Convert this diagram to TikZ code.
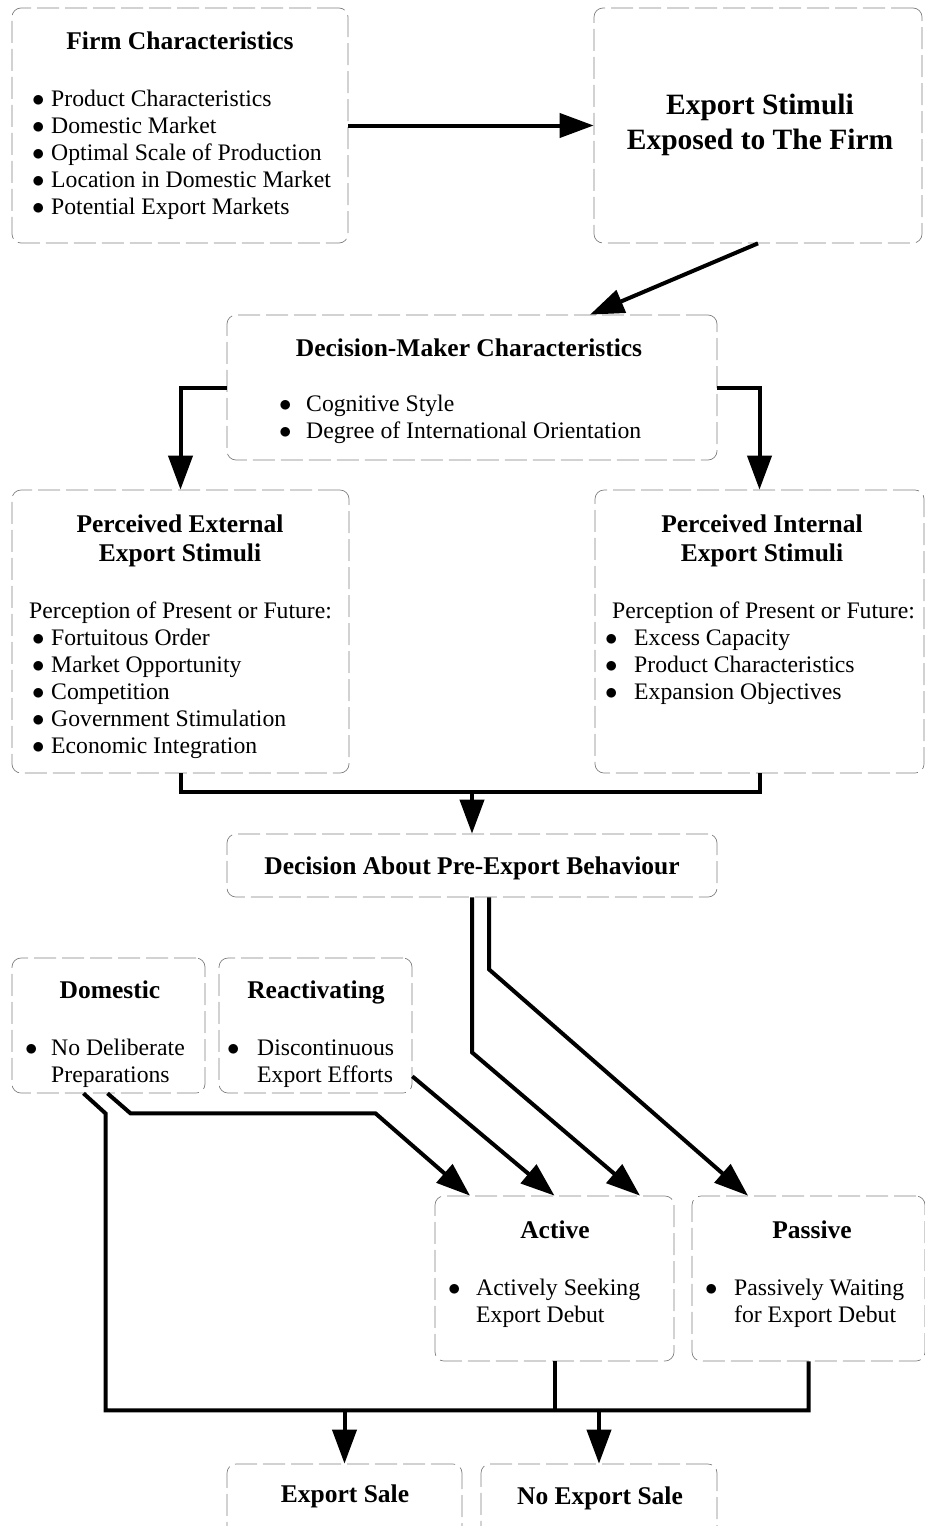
\documentclass[tikz,border=0pt]{standalone}
\usepackage{fontspec}
\setmainfont{Liberation Serif}
\usetikzlibrary{arrows.meta}
\newlength{\bulw}
\newcommand{\bul}{\strut\makebox[\bulw][l]{$\bullet$}}
\newcommand{\nob}{\strut\hspace*{\bulw}}

\begin{document}
\begin{tikzpicture}[x=1pt,y=-1pt,
  box/.style={draw=black!50,line width=0.7pt,dash pattern=on 22pt off 6pt,rounded corners=9pt,inner sep=0pt},
  ttl/.style={font=\fontsize{25.5}{29}\selectfont\bfseries,inner sep=0pt,anchor=base},
  big/.style={font=\fontsize{29.5}{35}\selectfont\bfseries,inner sep=0pt,anchor=base},
  txt/.style={font=\fontsize{23.7}{27}\selectfont,inner sep=0pt,anchor=base west},
  lst/.style={font=\fontsize{23.7}{27}\selectfont,inner sep=0pt,anchor=north west,align=left,
    execute at begin node={\setlength{\bulw}{#1}}},
  conn/.style={line width=4pt},
  arr/.style={line width=4pt,-{Triangle[length=34pt,width=24pt]}}]
\useasboundingbox (0,0) rectangle (925,1526);
% boxes
\node[box,minimum width=336,minimum height=235] (firm) at (180,125.5) {};
\node[box,minimum width=328,minimum height=235] (stim) at (758,125.5) {};
\node[box,minimum width=490,minimum height=145] (dm) at (472,387.5) {};
\node[box,minimum width=337,minimum height=283] (ext) at (180.5,631.5) {};
\node[box,minimum width=329,minimum height=283] (int) at (759.5,631.5) {};
\node[box,minimum width=490,minimum height=63] (dec) at (472,865.5) {};
\node[box,minimum width=193,minimum height=135] (dom) at (108.5,1025.5) {};
\node[box,minimum width=193,minimum height=135] (react) at (315.5,1025.5) {};
\node[box,minimum width=239,minimum height=165] (act) at (554.5,1278.5) {};
\node[box,minimum width=233,minimum height=165] (pas) at (808.5,1278.5) {};
\node[box,minimum width=235,minimum height=96] (es) at (344.5,1512) {};
\node[box,minimum width=236,minimum height=96] (nes) at (599,1512) {};
% titles
\node[ttl] (firmt) at (180,49) {Firm Characteristics};
\node[big] (stimta) at (760,114) {Export Stimuli};
\node[big] (stimtb) at (760,149) {Exposed to The Firm};
\node[ttl] (dmt) at (469,356) {Decision-Maker Characteristics};
\node[ttl] (extta) at (180,532) {Perceived External};
\node[ttl] (exttb) at (180,561) {Export Stimuli};
\node[ttl] (intta) at (762,532) {Perceived Internal};
\node[ttl] (inttb) at (762,561) {Export Stimuli};
\node[ttl] (dect) at (472,874) {Decision About Pre-Export Behaviour};
\node[ttl] (domt) at (110,998) {Domestic};
\node[ttl] (reactt) at (316,998) {Reactivating};
\node[ttl] (actt) at (555,1238) {Active};
\node[ttl] (past) at (812,1238) {Passive};
\node[ttl] (est) at (345,1502) {Export Sale};
\node[ttl] (nest) at (600,1504) {No Export Sale};
% lists
\node[lst=19pt] (firml) at (32,87.1) {\bul Product Characteristics\\ \bul Domestic Market\\
  \bul Optimal Scale of Production\\ \bul Location in Domestic Market\\ \bul Potential Export Markets};
\node[lst=27pt] (dml) at (279,392.1) {\bul Cognitive Style\\ \bul Degree of International Orientation};
\node[txt] (extp) at (29,618) {Perception of Present or Future:};
\node[lst=19pt] (extl) at (32,626.1) {\bul Fortuitous Order\\ \bul Market Opportunity\\ \bul Competition\\
  \bul Government Stimulation\\ \bul Economic Integration};
\node[txt] (intp) at (612,618) {Perception of Present or Future:};
\node[lst=29pt] (intl) at (605,626.1) {\bul Excess Capacity\\ \bul Product Characteristics\\ \bul Expansion Objectives};
\node[lst=26pt] (doml) at (25,1036.1) {\bul No Deliberate\\ \nob Preparations};
\node[lst=30pt] (reactl) at (227,1036.1) {\bul Discontinuous\\ \nob Export Efforts};
\node[lst=28pt] (actl) at (448,1276.1) {\bul Actively Seeking\\ \nob Export Debut};
\node[lst=29pt] (pasl) at (705,1276.1) {\bul Passively Waiting\\ \nob for Export Debut};
% connectors
\draw[arr] (firm) -- (stim);
\draw[arr] (stim.south) -- ([xshift=118pt]dm.north);
\draw[arr] (dm.west) -| (ext.north);
\draw[arr] (dm.east) -| (int.north);
\coordinate (jn) at (472,792);
\draw[conn] (ext.south) |- (jn) -| (int.south);
\draw[arr] (jn) -- (dec.north);
\draw[arr] (dec.south) -- ++(0,155) -- ([xshift=85.5pt]act.north);
\draw[arr] ([xshift=17pt]dec.south) -- ++(0,72) -- ([xshift=-60.5pt]pas.north);
\draw[arr] ([yshift=17pt]react.south east) -- (act.north);
\draw[arr] ([xshift=-1pt]dom.south) -- ++(23,20) -- ++(245,0) -- ([xshift=-84.5pt]act.north);
\draw[conn] ([xshift=-25pt]dom.south) -- ++(22,20) -- ++(0,297) -| (pas.south);
\coordinate (bus) at (0,1410);
\draw[conn] (act.south) -- (act.south |- bus);
\draw[arr] (es.north |- bus) -- (es.north);
\draw[arr] (nes.north |- bus) -- (nes.north);
\end{tikzpicture}
\end{document}
